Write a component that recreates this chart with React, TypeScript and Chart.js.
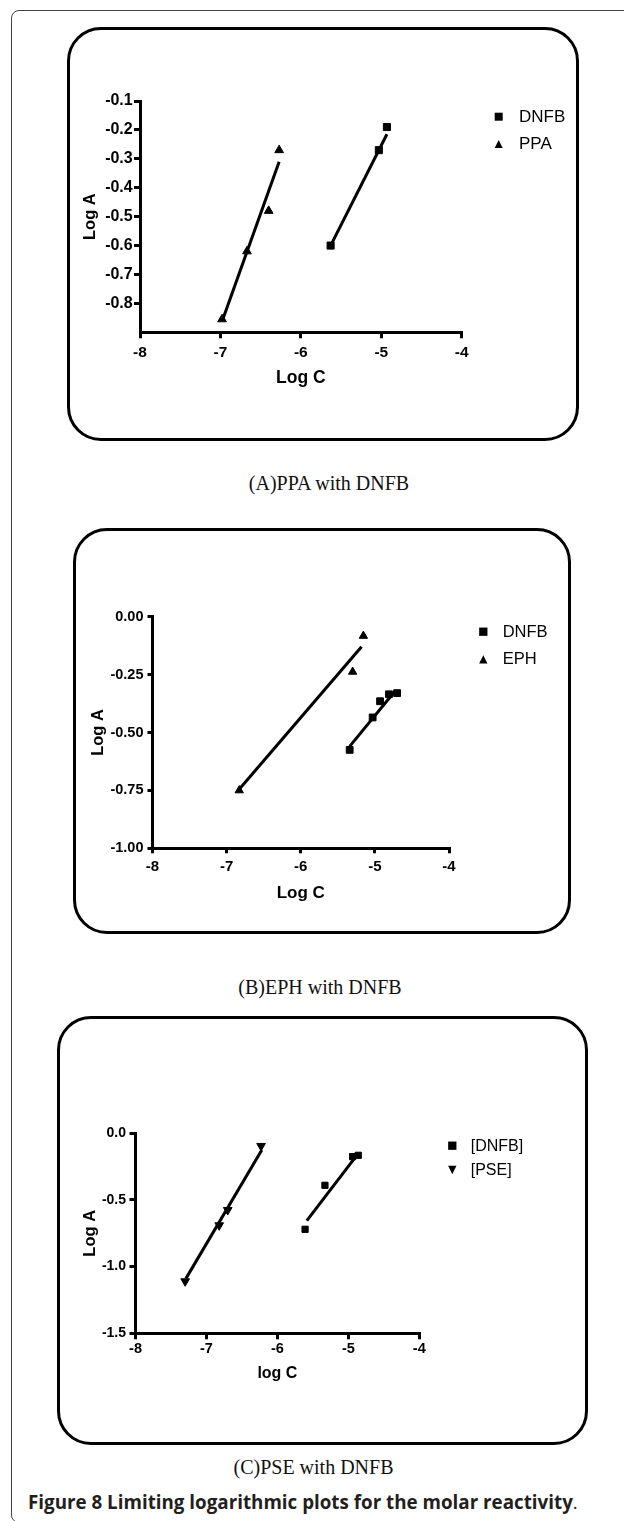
import React, { useEffect, useRef } from 'react';
import { Chart, registerables } from 'chart.js';

Chart.register(...registerables);

const FONT = "'Liberation Sans', Arial, Helvetica, sans-serif";

// ---------- Panel A: PPA with DNFB ----------
const aDnfbX = [-5.63, -5.03, -4.93];
const aDnfbY = [-0.6, -0.27, -0.19];
const aPpaX = [-6.98, -6.67, -6.4, -6.27];
const aPpaY = [-0.855, -0.62, -0.48, -0.27];
const aDnfbFitX = [-5.63, -4.93];
const aDnfbFitY = [-0.6, -0.215];
const aPpaFitX = [-6.97, -6.27];
const aPpaFitY = [-0.855, -0.31];
const aXTicks = [-8, -7, -6, -5, -4];
const aXLabels = ['-8', '-7', '-6', '-5', '-4'];
const aYTicks = [-0.8, -0.7, -0.6, -0.5, -0.4, -0.3, -0.2, -0.1];
const aYLabels = ['-0.8', '-0.7', '-0.6', '-0.5', '-0.4', '-0.3', '-0.2', '-0.1'];
const aLegend = ['DNFB', 'PPA'];

// ---------- Panel B: EPH with DNFB ----------
const bDnfbX = [-5.34, -5.03, -4.93, -4.81, -4.7];
const bDnfbY = [-0.575, -0.435, -0.365, -0.335, -0.33];
const bEphX = [-6.83, -5.3, -5.155];
const bEphY = [-0.75, -0.238, -0.083];
const bDnfbFitX = [-5.34, -4.73];
const bDnfbFitY = [-0.56, -0.322];
const bEphFitX = [-6.83, -5.18];
const bEphFitY = [-0.745, -0.13];
const bXTicks = [-8, -7, -6, -5, -4];
const bXLabels = ['-8', '-7', '-6', '-5', '-4'];
const bYTicks = [-1, -0.75, -0.5, -0.25, 0];
const bYLabels = ['-1.00', '-0.75', '-0.50', '-0.25', '0.00'];
const bLegend = ['DNFB', 'EPH'];

// ---------- Panel C: PSE with DNFB ----------
const cDnfbX = [-5.61, -5.33, -4.94, -4.86];
const cDnfbY = [-0.72, -0.39, -0.175, -0.165];
const cPseX = [-7.3, -6.82, -6.7, -6.23];
const cPseY = [-1.11, -0.69, -0.575, -0.095];
const cDnfbFitX = [-5.585, -4.86];
const cDnfbFitY = [-0.655, -0.15];
const cPseFitX = [-7.29, -6.22];
const cPseFitY = [-1.09, -0.125];
const cXTicks = [-8, -7, -6, -5, -4];
const cXLabels = ['-8', '-7', '-6', '-5', '-4'];
const cYTicks = [-1.5, -1, -0.5, 0];
const cYLabels = ['-1.5', '-1.0', '-0.5', '0.0'];
const cLegend = ['[DNFB]', '[PSE]'];

type Series = { x: number[]; y: number[]; style: string; rotation: number; radius: number };
type Fit = { x: number[]; y: number[] };
type Mark = 'square' | 'up' | 'down';

type PanelCfg = {
  series: Series[];
  fits: Fit[];
  xMin: number; xMax: number; yMin: number; yMax: number;
  xTicks: number[]; xLabels: string[]; yTicks: number[]; yLabels: string[];
  xTitle: string; yTitle: string;
  legendLabels: string[]; legendMarks: Mark[];
  canvas: { left: number; top: number; width: number; height: number };
  pad: { left: number; top: number; right: number; bottom: number };
  yAxisWidth: number; xAxisHeight: number;
  yTitlePad: number;
  xTickFont: number; yTickFont: number; xTitleFont: number; yTitleFont: number;
  xTickPad: number; yTickPad: number; tickLen: number;
  legend: { x: number; y: number[]; textX: number; font: number; size: number };
};

const pts = (xs: number[], ys: number[]) => xs.map((x, i) => ({ x, y: ys[i] }));

const labelFor = (ticks: number[], labels: string[], v: number) => {
  const i = ticks.findIndex((t) => Math.abs(t - v) < 1e-9);
  return i >= 0 ? labels[i] : '';
};

function drawMark(ctx: CanvasRenderingContext2D, kind: Mark, x: number, y: number, s: number) {
  ctx.beginPath();
  if (kind === 'square') {
    ctx.rect(x - s / 2, y - s / 2, s, s);
  } else if (kind === 'up') {
    ctx.moveTo(x, y - s / 2);
    ctx.lineTo(x + s / 2, y + s / 2);
    ctx.lineTo(x - s / 2, y + s / 2);
    ctx.closePath();
  } else {
    ctx.moveTo(x, y + s / 2);
    ctx.lineTo(x + s / 2, y - s / 2);
    ctx.lineTo(x - s / 2, y - s / 2);
    ctx.closePath();
  }
  ctx.fill();
}

function Panel({ cfg }: { cfg: PanelCfg }) {
  const ref = useRef<HTMLCanvasElement>(null);
  useEffect(() => {
    const canvas = ref.current as HTMLCanvasElement;
    const datasets: any[] = [
      ...cfg.fits.map((f) => ({
        data: pts(f.x, f.y),
        showLine: true,
        pointRadius: 0,
        borderColor: '#000',
        backgroundColor: '#000',
        borderWidth: 3,
        clip: false,
      })),
      ...cfg.series.map((s, i) => ({
        label: cfg.legendLabels[i],
        data: pts(s.x, s.y),
        showLine: false,
        pointStyle: s.style,
        rotation: s.rotation,
        pointRadius: s.radius,
        pointBorderWidth: 1,
        pointBackgroundColor: '#000',
        pointBorderColor: '#000',
        clip: false,
      })),
    ];
    const legendPlugin = {
      id: 'panelLegend',
      afterDraw(chart: any) {
        const ctx = chart.ctx as CanvasRenderingContext2D;
        ctx.save();
        ctx.fillStyle = '#000';
        ctx.font = `${cfg.legend.font}px ${FONT}`;
        ctx.textBaseline = 'middle';
        ctx.textAlign = 'left';
        cfg.legendLabels.forEach((lab, i) => {
          const y = cfg.legend.y[i];
          drawMark(ctx, cfg.legendMarks[i], cfg.legend.x, y, cfg.legend.size);
          ctx.fillText(lab, cfg.legend.textX, y + 0.5);
        });
        ctx.restore();
      },
    };
    const chart = new Chart(canvas, {
      type: 'scatter',
      data: { datasets },
      options: {
        animation: false,
        responsive: false,
        events: [],
        layout: { padding: cfg.pad },
        plugins: { legend: { display: false }, tooltip: { enabled: false } },
        scales: {
          x: {
            type: 'linear',
            position: 'bottom',
            min: cfg.xMin,
            max: cfg.xMax,
            afterBuildTicks: (s: any) => {
              s.ticks = cfg.xTicks.map((v) => ({ value: v }));
            },
            afterFit: (s: any) => {
              s.height = cfg.xAxisHeight;
            },
            ticks: {
              autoSkip: false,
              maxRotation: 0,
              minRotation: 0,
              padding: cfg.xTickPad,
              color: '#000',
              font: { family: FONT, size: cfg.xTickFont, weight: 'bold' },
              callback: (v: any) => labelFor(cfg.xTicks, cfg.xLabels, Number(v)),
            },
            grid: {
              display: true,
              drawOnChartArea: false,
              drawTicks: true,
              tickLength: cfg.tickLen,
              tickWidth: 3,
              tickColor: '#000',
              color: '#000',
              lineWidth: 3,
            },
            border: { display: true, color: '#000', width: 3 },
            title: {
              display: true,
              text: cfg.xTitle,
              color: '#000',
              font: { family: FONT, size: cfg.xTitleFont, weight: 'bold' },
              padding: { top: 0, bottom: 0 },
            },
          },
          y: {
            type: 'linear',
            position: 'left',
            min: cfg.yMin,
            max: cfg.yMax,
            afterBuildTicks: (s: any) => {
              s.ticks = cfg.yTicks.map((v) => ({ value: v }));
            },
            afterFit: (s: any) => {
              s.width = cfg.yAxisWidth;
            },
            ticks: {
              autoSkip: false,
              padding: cfg.yTickPad,
              color: '#000',
              font: { family: FONT, size: cfg.yTickFont, weight: 'bold' },
              callback: (v: any) => labelFor(cfg.yTicks, cfg.yLabels, Number(v)),
            },
            grid: {
              display: true,
              drawOnChartArea: false,
              drawTicks: true,
              tickLength: cfg.tickLen,
              tickWidth: 3,
              tickColor: '#000',
              color: '#000',
              lineWidth: 3,
            },
            border: { display: true, color: '#000', width: 3 },
            title: {
              display: true,
              text: cfg.yTitle,
              color: '#000',
              font: { family: FONT, size: cfg.yTitleFont, weight: 'bold' },
              padding: { top: cfg.yTitlePad, bottom: 0 },
            },
          },
        },
      } as any,
      plugins: [legendPlugin],
    });
    return () => chart.destroy();
  }, [cfg]);
  const c = cfg.canvas;
  return (
    <canvas
      ref={ref}
      width={c.width}
      height={c.height}
      style={{ position: 'absolute', left: c.left, top: c.top, width: c.width, height: c.height }}
    />
  );
}

// chart-area targets (page px): A 140..461.7 x 101..332.3 ; B 152.5..449 x 616.7..848.3 ; C 135.5..419.3 x 1133.3..1333.3
const panelA: PanelCfg = {
  series: [
    { x: aDnfbX, y: aDnfbY, style: 'rect', rotation: 0, radius: 5 },
    { x: aPpaX, y: aPpaY, style: 'triangle', rotation: 0, radius: 5 },
  ],
  fits: [
    { x: aDnfbFitX, y: aDnfbFitY },
    { x: aPpaFitX, y: aPpaFitY },
  ],
  xMin: -8, xMax: -4, yMin: -0.9, yMax: -0.1,
  xTicks: aXTicks, xLabels: aXLabels, yTicks: aYTicks, yLabels: aYLabels,
  xTitle: 'Log C', yTitle: 'Log A',
  legendLabels: aLegend, legendMarks: ['square', 'up'],
  canvas: { left: 70, top: 30, width: 505, height: 407 },
  pad: { left: 0, top: 71, right: 113.3, bottom: 48.2 },
  yAxisWidth: 70, xAxisHeight: 56.5, yTitlePad: 10.1,
  xTickFont: 15.5, yTickFont: 16, xTitleFont: 17.5, yTitleFont: 16.5,
  xTickPad: 5, yTickPad: 1.3, tickLen: 6,
  legend: { x: 428.7, y: [86.7, 114], textX: 449, font: 17, size: 8 },
};

const panelB: PanelCfg = {
  series: [
    { x: bDnfbX, y: bDnfbY, style: 'rect', rotation: 0, radius: 4.8 },
    { x: bEphX, y: bEphY, style: 'triangle', rotation: 0, radius: 4.8 },
  ],
  fits: [
    { x: bDnfbFitX, y: bDnfbFitY },
    { x: bEphFitX, y: bEphFitY },
  ],
  xMin: -8, xMax: -4, yMin: -1, yMax: 0,
  xTicks: bXTicks, xLabels: bXLabels, yTicks: bYTicks, yLabels: bYLabels,
  xTitle: 'Log C', yTitle: 'Log A',
  legendLabels: bLegend, legendMarks: ['square', 'up'],
  canvas: { left: 76, top: 531, width: 492, height: 399 },
  pad: { left: 0, top: 85.7, right: 119, bottom: 26.1 },
  yAxisWidth: 76.5, xAxisHeight: 55.6, yTitlePad: 12.4,
  xTickFont: 15, yTickFont: 14.5, xTitleFont: 17, yTitleFont: 16.5,
  xTickPad: 5, yTickPad: 4, tickLen: 5,
  legend: { x: 407.3, y: [100.7, 128.3], textX: 426.7, font: 16.5, size: 8.3 },
};

const panelC: PanelCfg = {
  series: [
    { x: cDnfbX, y: cDnfbY, style: 'rect', rotation: 0, radius: 4.4 },
    { x: cPseX, y: cPseY, style: 'triangle', rotation: 180, radius: 5 },
  ],
  fits: [
    { x: cDnfbFitX, y: cDnfbFitY },
    { x: cPseFitX, y: cPseFitY },
  ],
  xMin: -8, xMax: -4, yMin: -1.5, yMax: 0,
  xTicks: cXTicks, xLabels: cXLabels, yTicks: cYTicks, yLabels: cYLabels,
  xTitle: 'log C', yTitle: 'Log A',
  legendLabels: cLegend, legendMarks: ['square', 'down'],
  canvas: { left: 60, top: 1019, width: 525, height: 423 },
  pad: { left: 0, top: 114.3, right: 165.7, bottom: 59.1 },
  yAxisWidth: 75.5, xAxisHeight: 49.6, yTitlePad: 20.8,
  xTickFont: 14.5, yTickFont: 14, xTitleFont: 16, yTitleFont: 16.5,
  xTickPad: 1, yTickPad: 3.5, tickLen: 6,
  legend: { x: 392.3, y: [126.7, 151], textX: 410.7, font: 16, size: 8.3 },
};

const boxStyle = (l: number, t: number, r: number, b: number): React.CSSProperties => ({
  position: 'absolute',
  left: l - 1.5,
  top: t - 1.5,
  width: r - l + 3,
  height: b - t + 3,
  border: '3px solid #000',
  borderRadius: 34,
  boxSizing: 'border-box',
});

const captionStyle = (cx: number, top: number): React.CSSProperties => ({
  position: 'absolute',
  left: cx - 160,
  width: 320,
  top,
  textAlign: 'center',
  fontFamily: "'Liberation Serif', 'Times New Roman', serif",
  fontSize: 20,
  lineHeight: '24px',
  color: '#111',
  whiteSpace: 'nowrap',
});

export default function App() {
  return (
    <div
      style={{
        position: 'absolute',
        left: 0,
        top: 0,
        width: 624,
        height: 1521,
        overflow: 'hidden',
        background: '#fff',
      }}
    >
      <div
        style={{
          position: 'absolute',
          left: 10.5,
          top: 9.5,
          width: 700,
          height: 1513,
          border: '1.5px solid #444',
          borderRadius: 8,
          boxSizing: 'border-box',
        }}
      />
      <div style={boxStyle(68, 28.3, 577.3, 439.3)} />
      <div style={boxStyle(74.5, 529, 569.3, 932)} />
      <div style={boxStyle(58, 1017.3, 586.7, 1443.3)} />
      <Panel cfg={panelA} />
      <Panel cfg={panelB} />
      <Panel cfg={panelC} />
      <div style={captionStyle(329, 471)}>(A)PPA with DNFB</div>
      <div style={captionStyle(320, 975)}>(B)EPH with DNFB</div>
      <div style={captionStyle(313.5, 1455.3)}>(C)PSE with DNFB</div>
      <div
        style={{
          position: 'absolute',
          left: 28,
          top: 1492,
          fontFamily: "'Open Sans', 'Noto Sans', sans-serif",
          fontSize: 18.8,
          lineHeight: '20px',
          color: '#231f20',
          whiteSpace: 'nowrap',
        }}
      >
        <span style={{ fontWeight: 700 }}>Figure 8 Limiting logarithmic plots for the molar reactivity</span>
        <span>.</span>
      </div>
    </div>
  );
}
